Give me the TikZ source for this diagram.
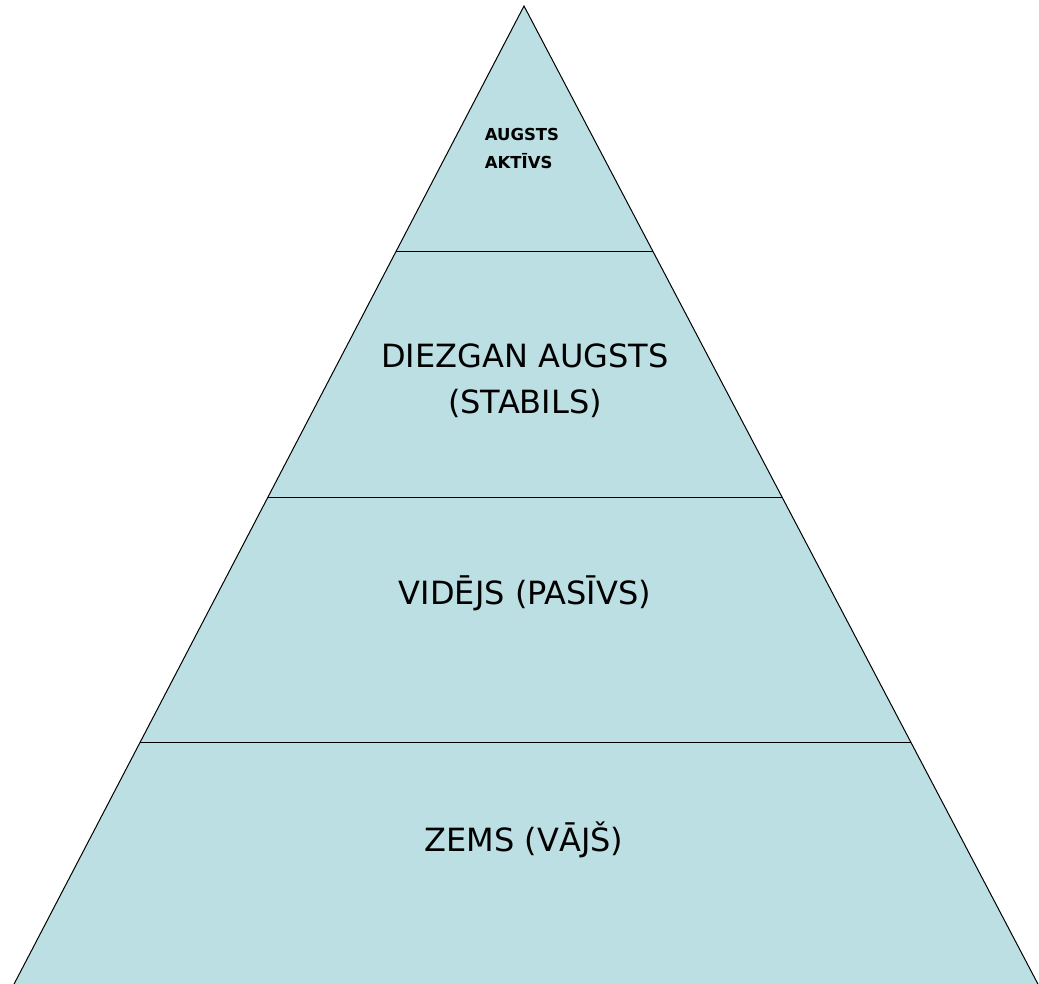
\documentclass[tikz,border=0pt]{standalone}
\usepackage{fontspec}
\setmainfont{DejaVu Sans}
\usetikzlibrary{calc}
\definecolor{pyrfill}{RGB}{187,223,227}
\tikzset{
  tier/.style={font=\fontsize{32}{46}\selectfont, align=center, text=black},
  toptier/.style={font=\bfseries\fontsize{16.5}{28}\selectfont, align=left, text=black},
  band/.style={draw=black, line width=1pt}
}
\begin{document}
\begin{tikzpicture}[x=1pt,y=-1pt]
  \useasboundingbox (0,0) rectangle (1039,984);
  \clip (0,0) rectangle (1039,984);
  % pyramid outline
  \coordinate (apex) at (524,6);
  \coordinate (bl) at (12,988);
  \coordinate (br) at (1040,988);
  \filldraw[fill=pyrfill, draw=black, line width=1pt, line join=miter] (apex) -- (bl) -- (br) -- cycle;
  % tier boundaries
  \foreach \t/\n in {0.25/a,0.5/b,0.75/c}{
    \coordinate (l\n) at ($(apex)!\t!(bl)$);
    \coordinate (r\n) at ($(apex)!\t!(br)$);
    \draw[band] (l\n) -- (r\n);
  }
  % labels
  \node[toptier] (t1) at (522,148) {AUGSTS\\AKTĪVS};
  \node[tier] (t2) at (525,381) {DIEZGAN AUGSTS\\(STABILS)};
  \node[tier] (t3) at (525,593) {VIDĒJS (PASĪVS)};
  \node[tier] (t4) at (524,840) {ZEMS (VĀJŠ)};
\end{tikzpicture}
\end{document}
